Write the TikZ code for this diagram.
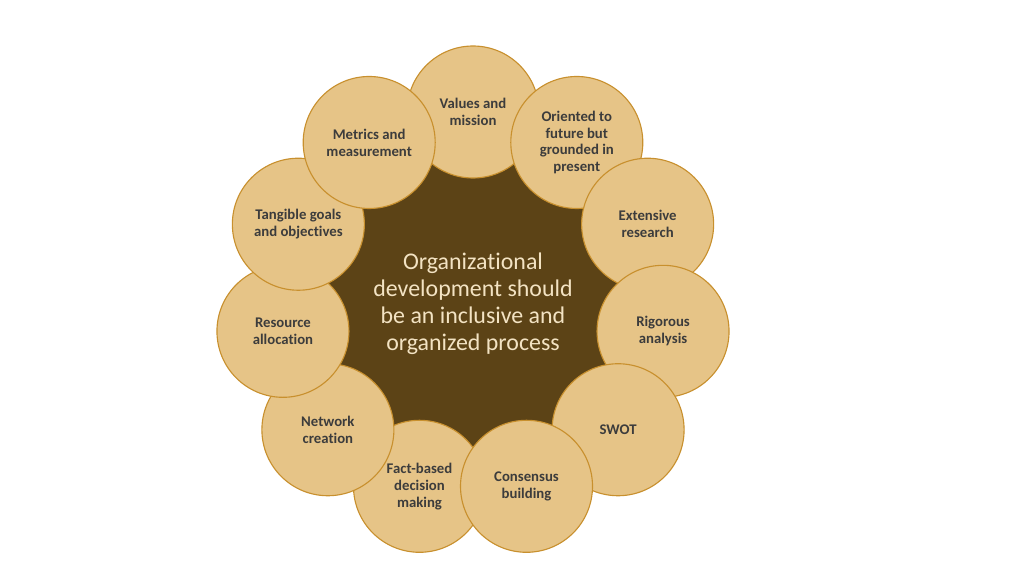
\documentclass[tikz,border=0pt]{standalone}
\usepackage{fontspec}
\setmainfont{Carlito}[Ligatures=NoCommon]
\usepackage{tikz}

\definecolor{tan}{HTML}{E6C487}
\definecolor{tanline}{HTML}{C8902E}
\definecolor{hubbrown}{HTML}{5C4316}
\definecolor{hubtext}{HTML}{F3E3C3}
\definecolor{ringtext}{HTML}{3C3C3C}

\begin{document}
\begin{tikzpicture}[rnode/.style={draw=tanline, fill=tan, line width=0.8pt, circle, minimum size=3.3cm, inner sep=0pt, align=center, font=\fontsize{10.5}{12}\selectfont\bfseries, text=ringtext}, hnode/.style={fill=hubbrown, circle, minimum size=8cm, inner sep=0pt, align=center, font=\fontsize{17}{19.3}\selectfont, text=hubtext}]
    \useasboundingbox (-11.825,-6.8) rectangle (13.775,7.6);
    \node[hnode] (hub) at (0,0) {};

    \node[rnode] (values) at (90:4.8) {Values and\\mission};
    \node[rnode] (oriented) at (57.27:4.8) {Oriented to\\future but\\grounded in\\present};
    \node[rnode] (research) at (24.55:4.8) {Extensive\\research};
    \node[rnode] (analysis) at (-8.18:4.8) {Rigorous\\analysis};
    \node[rnode] (swot) at (-40.91:4.8) {SWOT};
    \node[rnode] (facts) at (-106.36:4.75) {Fact-based\\decision\\making};
    \node[rnode] (network) at (-139.09:4.8) {Network\\creation};
    \node[rnode] (resource) at (-171.82:4.8) {Resource\\allocation};
    \node[rnode] (goals) at (155.45:4.8) {Tangible goals\\and objectives};
    \node[rnode] (metrics) at (122.73:4.8) {Metrics and\\measurement};
    \node[rnode] (consensus) at (-73.64:4.75) {Consensus\\building};

    \node[font=\fontsize{17}{19.3}\selectfont, text=hubtext, align=center] (hubtxt) at (hub) {Organizational\\development should\\be an inclusive and\\organized process};
\end{tikzpicture}
\end{document}
